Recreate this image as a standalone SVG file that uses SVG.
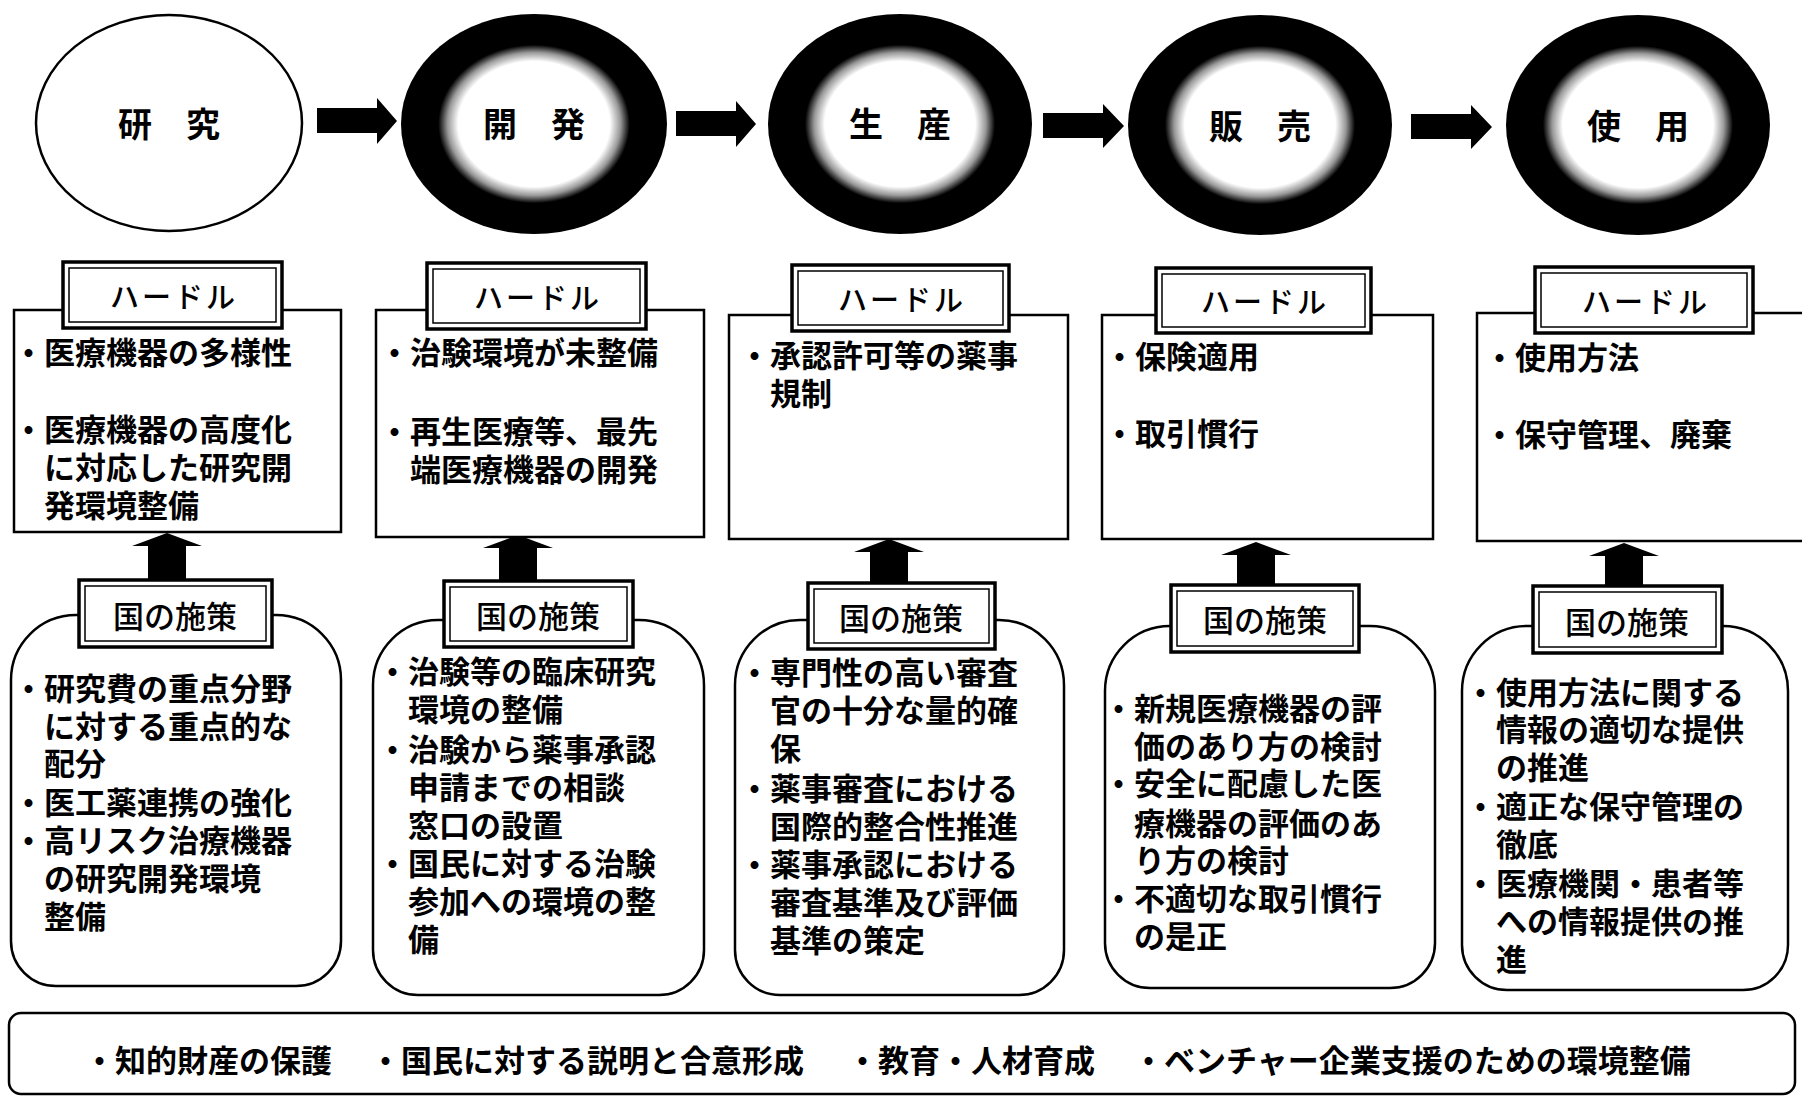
<svg xmlns="http://www.w3.org/2000/svg" width="1802" height="1100" viewBox="0 0 1802 1100">
<style>
.t{font-family:"Noto Sans CJK JP","Noto Sans CJK SC",sans-serif;font-weight:700;font-size:31px;dominant-baseline:central;fill:#000}
.c{font-family:"Noto Sans CJK JP",sans-serif;font-weight:700;font-size:34px;dominant-baseline:central;text-anchor:middle}
.l{font-family:"Noto Sans CJK JP",sans-serif;font-weight:500;font-size:29px;dominant-baseline:central;text-anchor:middle;letter-spacing:3px}
.k{font-family:"Noto Sans CJK JP",sans-serif;font-weight:500;font-size:31px;dominant-baseline:central;text-anchor:middle}
.lo{fill:#fff;stroke:#000;stroke-width:3.5}
.li{fill:none;stroke:#000;stroke-width:1.5}
.box{fill:#fff;stroke:#000;stroke-width:2.5}
.arr{fill:#000}
</style>
<defs>
<radialGradient id="dark" cx="0.5" cy="0.5" r="0.5">
<stop offset="0" stop-color="#fff"/>
<stop offset="0.57" stop-color="#fff"/>
<stop offset="0.65" stop-color="#999"/>
<stop offset="0.72" stop-color="#000"/>
<stop offset="1" stop-color="#000"/>
</radialGradient>
</defs>
<rect width="1802" height="1100" fill="#fff"/>

<g id="stage-research"><ellipse cx="169" cy="123" rx="133" ry="108" fill="#fff" stroke="#000" stroke-width="2.5"/><text class="c" x="169" y="122">研　究</text></g>
<g id="stage-development"><ellipse cx="534" cy="124" rx="133" ry="110" fill="url(#dark)"/><text class="c" x="534" y="122">開　発</text></g>
<g id="stage-production"><ellipse cx="900" cy="124" rx="132" ry="110" fill="url(#dark)"/><text class="c" x="900" y="122">生　産</text></g>
<g id="stage-sales"><ellipse cx="1260" cy="125" rx="132" ry="110" fill="url(#dark)"/><text class="c" x="1260" y="124">販　売</text></g>
<g id="stage-use"><ellipse cx="1638" cy="125" rx="132" ry="110" fill="url(#dark)"/><text class="c" x="1638" y="124">使　用</text></g>

<g id="connectors">
<polygon class="arr" points="317,108 377,108 377,98 397,121 377,144 377,133 317,133"/>
<polygon class="arr" points="676,111 736,111 736,101 756,124 736,147 736,136 676,136"/>
<polygon class="arr" points="1043,113 1103,113 1103,104 1124,126 1103,148 1103,138 1043,138"/>
<polygon class="arr" points="1411,114 1471,114 1471,105 1492,127 1471,149 1471,139 1411,139"/>
<polygon class="arr" points="167,533 202,546 186,546 186,580 148,580 148,546 132,546"/>
<polygon class="arr" points="518,535 553,548 537,548 537,581 499,581 499,548 483,548"/>
<polygon class="arr" points="889,539 924,552 908,552 908,584 870,584 870,552 854,552"/>
<polygon class="arr" points="1256,542 1291,555 1275,555 1275,586 1237,586 1237,555 1221,555"/>
<polygon class="arr" points="1624,543 1659,556 1643,556 1643,587 1605,587 1605,556 1589,556"/>
</g>

<g id="hurdle-1">
<rect class="box" x="14" y="310" width="327" height="222"/>
<rect class="lo" x="63" y="262" width="219" height="66"/><rect class="li" x="69" y="268" width="207" height="54"/>
<text class="l" x="174" y="295">ハードル</text>
<text class="t" x="13" y="350">・医療機器の多様性</text>
<text class="t" x="13" y="427">・医療機器の高度化</text>
<text class="t" x="44" y="465">に対応した研究開</text>
<text class="t" x="44" y="503">発環境整備</text>
</g>
<g id="hurdle-2">
<rect class="box" x="376" y="310" width="328" height="227"/>
<rect class="lo" x="427" y="263" width="219" height="66"/><rect class="li" x="433" y="269" width="207" height="54"/>
<text class="l" x="538" y="296">ハードル</text>
<text class="t" x="379" y="350">・治験環境が未整備</text>
<text class="t" x="379" y="429">・再生医療等、最先</text>
<text class="t" x="410" y="467">端医療機器の開発</text>
</g>
<g id="hurdle-3">
<rect class="box" x="729" y="315" width="339" height="224"/>
<rect class="lo" x="792" y="265" width="217" height="66"/><rect class="li" x="798" y="271" width="205" height="54"/>
<text class="l" x="902" y="298">ハードル</text>
<text class="t" x="739" y="353">・承認許可等の薬事</text>
<text class="t" x="770" y="391">規制</text>
</g>
<g id="hurdle-4">
<rect class="box" x="1102" y="315" width="331" height="224"/>
<rect class="lo" x="1156" y="268" width="215" height="65"/><rect class="li" x="1162" y="274" width="203" height="53"/>
<text class="l" x="1265" y="300">ハードル</text>
<text class="t" x="1104" y="354">・保険適用</text>
<text class="t" x="1104" y="431">・取引慣行</text>
</g>
<g id="hurdle-5">
<rect class="box" x="1477" y="313" width="340" height="228"/>
<rect class="lo" x="1535" y="267" width="218" height="66"/><rect class="li" x="1541" y="273" width="206" height="54"/>
<text class="l" x="1646" y="300">ハードル</text>
<text class="t" x="1484" y="355">・使用方法</text>
<text class="t" x="1484" y="432">・保守管理、廃棄</text>
</g>

<g id="policy-1">
<path class="box" d="M11,680 A65,65 0 0 1 76,615 L276,615 A65,65 0 0 1 341,680 L341,941 A45,45 0 0 1 296,986 L56,986 A45,45 0 0 1 11,941 Z"/>
<rect class="lo" x="79" y="580" width="193" height="67"/><rect class="li" x="85" y="586" width="181" height="55"/>
<text class="k" x="175" y="614">国の施策</text>
<text class="t" x="13" y="686">・研究費の重点分野</text>
<text class="t" x="44" y="724">に対する重点的な</text>
<text class="t" x="44" y="761">配分</text>
<text class="t" x="13" y="800">・医工薬連携の強化</text>
<text class="t" x="13" y="838">・高リスク治療機器</text>
<text class="t" x="44" y="876">の研究開発環境</text>
<text class="t" x="44" y="914">整備</text>
</g>
<g id="policy-2">
<path class="box" d="M373,685 A65,65 0 0 1 438,620 L639,620 A65,65 0 0 1 704,685 L704,950 A45,45 0 0 1 659,995 L418,995 A45,45 0 0 1 373,950 Z"/>
<rect class="lo" x="444" y="581" width="189" height="66"/><rect class="li" x="450" y="587" width="177" height="54"/>
<text class="k" x="538" y="614">国の施策</text>
<text class="t" x="377" y="669">・治験等の臨床研究</text>
<text class="t" x="408" y="707">環境の整備</text>
<text class="t" x="377" y="747">・治験から薬事承認</text>
<text class="t" x="408" y="785">申請までの相談</text>
<text class="t" x="408" y="823">窓口の設置</text>
<text class="t" x="377" y="861">・国民に対する治験</text>
<text class="t" x="408" y="899">参加への環境の整</text>
<text class="t" x="408" y="937">備</text>
</g>
<g id="policy-3">
<path class="box" d="M735,685 A65,65 0 0 1 800,620 L999,620 A65,65 0 0 1 1064,685 L1064,950 A45,45 0 0 1 1019,995 L780,995 A45,45 0 0 1 735,950 Z"/>
<rect class="lo" x="808" y="583" width="187" height="66"/><rect class="li" x="814" y="589" width="175" height="54"/>
<text class="k" x="901" y="616">国の施策</text>
<text class="t" x="739" y="670">・専門性の高い審査</text>
<text class="t" x="770" y="708">官の十分な量的確</text>
<text class="t" x="770" y="746">保</text>
<text class="t" x="739" y="786">・薬事審査における</text>
<text class="t" x="770" y="824">国際的整合性推進</text>
<text class="t" x="739" y="862">・薬事承認における</text>
<text class="t" x="770" y="900">審査基準及び評価</text>
<text class="t" x="770" y="938">基準の策定</text>
</g>
<g id="policy-4">
<path class="box" d="M1105,691 A65,65 0 0 1 1170,626 L1370,626 A65,65 0 0 1 1435,691 L1435,943 A45,45 0 0 1 1390,988 L1150,988 A45,45 0 0 1 1105,943 Z"/>
<rect class="lo" x="1171" y="585" width="188" height="67"/><rect class="li" x="1177" y="591" width="176" height="55"/>
<text class="k" x="1265" y="618">国の施策</text>
<text class="t" x="1103" y="706">・新規医療機器の評</text>
<text class="t" x="1134" y="744">価のあり方の検討</text>
<text class="t" x="1103" y="781">・安全に配慮した医</text>
<text class="t" x="1134" y="821">療機器の評価のあ</text>
<text class="t" x="1134" y="858">り方の検討</text>
<text class="t" x="1103" y="896">・不適切な取引慣行</text>
<text class="t" x="1134" y="934">の是正</text>
</g>
<g id="policy-5">
<path class="box" d="M1462,691 A65,65 0 0 1 1527,626 L1723,626 A65,65 0 0 1 1788,691 L1788,945 A45,45 0 0 1 1743,990 L1507,990 A45,45 0 0 1 1462,945 Z"/>
<rect class="lo" x="1533" y="586" width="189" height="67"/><rect class="li" x="1539" y="592" width="177" height="55"/>
<text class="k" x="1627" y="620">国の施策</text>
<text class="t" x="1465" y="690">・使用方法に関する</text>
<text class="t" x="1496" y="727">情報の適切な提供</text>
<text class="t" x="1496" y="765">の推進</text>
<text class="t" x="1465" y="804">・適正な保守管理の</text>
<text class="t" x="1496" y="842">徹底</text>
<text class="t" x="1465" y="881">・医療機関・患者等</text>
<text class="t" x="1496" y="919">への情報提供の推</text>
<text class="t" x="1496" y="957">進</text>
</g>

<g id="common-measures">
<rect class="box" x="9" y="1013" width="1786" height="81" rx="12"/>
<text class="t" x="84" y="1058">・知的財産の保護</text>
<text class="t" x="370" y="1058">・国民に対する説明と合意形成</text>
<text class="t" x="847" y="1058">・教育・人材育成</text>
<text class="t" x="1133" y="1058">・ベンチャー企業支援のための環境整備</text>
</g>
</svg>
